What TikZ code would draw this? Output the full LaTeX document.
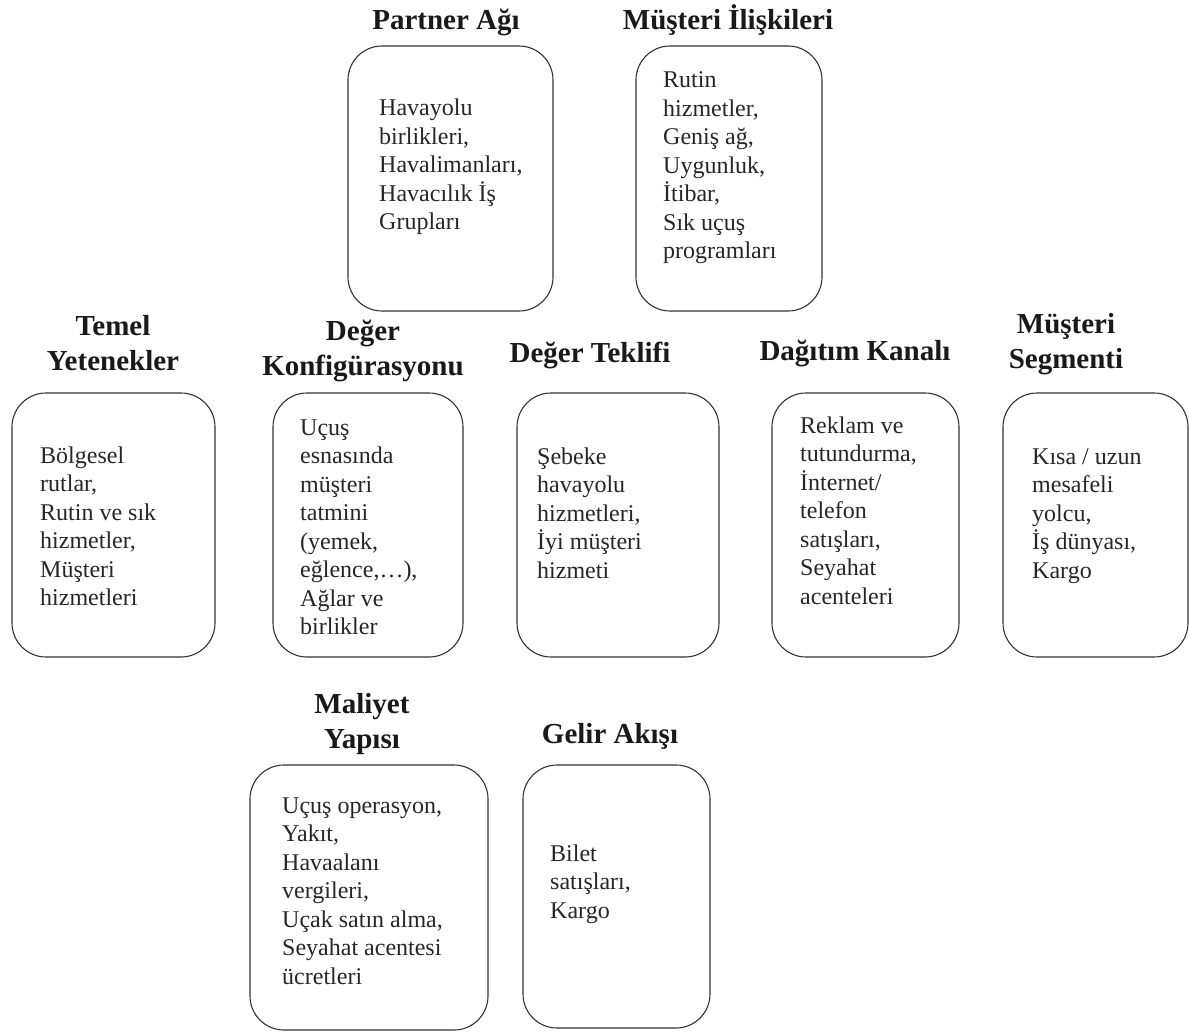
\documentclass[tikz,border=0pt]{standalone}
\usepackage{fontspec}
\setmainfont{Liberation Serif}
\newcommand\bodytext[1]{\parbox[t]{220pt}{\raggedright #1}}
\newcommand\ttltext[1]{\parbox[t]{320pt}{\centering #1}}
\tikzset{
  box/.style={draw=black!80, line width=1.1pt, rounded corners=34pt, inner sep=0pt},
  body/.style={anchor=base west, inner sep=0pt, text=black!85, font=\fontsize{24}{28.5}\selectfont},
  ttl/.style={anchor=base, inner sep=0pt, text=black!90, font=\bfseries\fontsize{29}{35}\selectfont},
}
\begin{document}
\begin{tikzpicture}[x=1pt,y=-1pt]
\useasboundingbox (0,0) rectangle (1190,1032);
% boxes
\node[box, minimum width=205pt, minimum height=265pt] (pa) at (450.5,178.5) {};
\node[box, minimum width=186pt, minimum height=265pt] (mi) at (729,178.5) {};
\node[box, minimum width=203pt, minimum height=264pt] (ty) at (113.5,525) {};
\node[box, minimum width=190pt, minimum height=264pt] (dk) at (368,525) {};
\node[box, minimum width=202pt, minimum height=264pt] (dt) at (618,525) {};
\node[box, minimum width=187pt, minimum height=264pt] (dg) at (865.5,525) {};
\node[box, minimum width=185pt, minimum height=264pt] (ms) at (1095.5,525) {};
\node[box, minimum width=238pt, minimum height=265pt] (my) at (369,897.5) {};
\node[box, minimum width=187pt, minimum height=263pt] (ga) at (616.5,896.5) {};
% titles
\node[ttl] (tpa) at (446,30) {\ttltext{Partner Ağı}};
\node[ttl] (tmi) at (728,30) {\ttltext{Müşteri İlişkileri}};
\node[ttl] (tty) at (113,335) {\ttltext{Temel\\Yetenekler}};
\node[ttl] (tdk) at (363,340) {\ttltext{Değer\\Konfigürasyonu}};
\node[ttl] (tdt) at (590,362) {\ttltext{Değer Teklifi}};
\node[ttl] (tdg) at (855,360) {\ttltext{Dağıtım Kanalı}};
\node[ttl] (tms) at (1066,333) {\ttltext{Müşteri\\Segmenti}};
\node[ttl] (tmy) at (362,713) {\ttltext{Maliyet\\Yapısı}};
\node[ttl] (tga) at (610,743) {\ttltext{Gelir Akışı}};
% body texts
\node[body] (bpa) at (379,116) {\bodytext{Havayolu\\birlikleri,\\Havalimanları,\\Havacılık İş\\Grupları}};
\node[body] (bmi) at (663,88) {\bodytext{Rutin\\hizmetler,\\Geniş ağ,\\Uygunluk,\\İtibar,\\Sık uçuş\\programları}};
\node[body] (bty) at (40,463) {\bodytext{Bölgesel\\rutlar,\\Rutin ve sık\\hizmetler,\\Müşteri\\hizmetleri}};
\node[body] (bdk) at (300,435) {\bodytext{Uçuş\\esnasında\\müşteri\\tatmini\\(yemek,\\eğlence,…),\\Ağlar ve\\birlikler}};
\node[body] (bdt) at (537,464) {\bodytext{Şebeke\\havayolu\\hizmetleri,\\İyi müşteri\\hizmeti}};
\node[body] (bdg) at (800,433) {\bodytext{Reklam ve\\tutundurma,\\İnternet/\\telefon\\satışları,\\Seyahat\\acenteleri}};
\node[body] (bms) at (1032,464) {\bodytext{Kısa / uzun\\mesafeli\\yolcu,\\İş dünyası,\\Kargo}};
\node[body] (bmy) at (282,813) {\bodytext{Uçuş operasyon,\\Yakıt,\\Havaalanı\\vergileri,\\Uçak satın alma,\\Seyahat acentesi\\ücretleri}};
\node[body] (bga) at (550,861) {\bodytext{Bilet\\satışları,\\Kargo}};
\end{tikzpicture}
\end{document}
